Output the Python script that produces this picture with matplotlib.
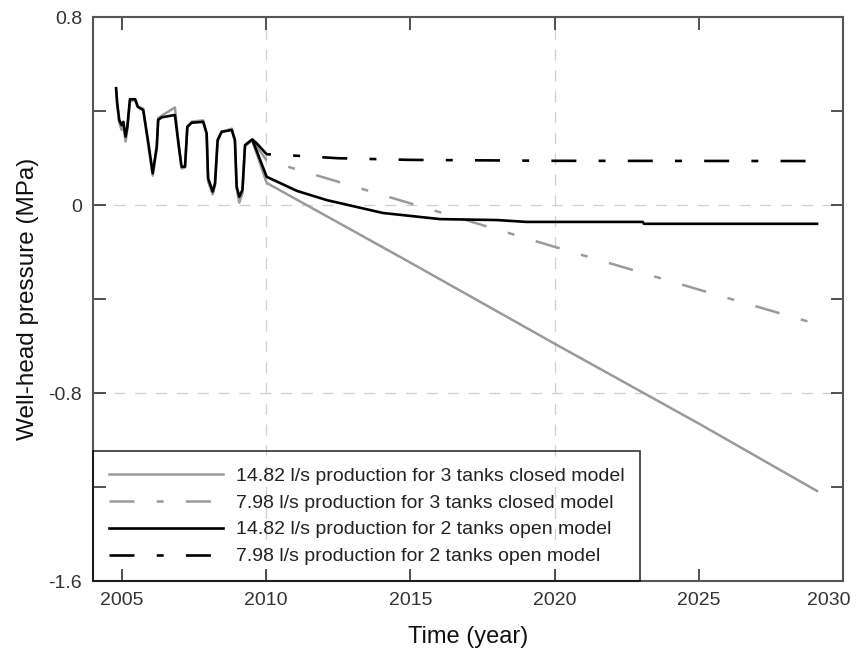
#import matplotlib and the bits for tick placement
import matplotlib
matplotlib.use('Agg')
import matplotlib.pyplot as plt
import matplotlib.transforms as mtransforms
from matplotlib.ticker import MultipleLocator, FixedLocator, FuncFormatter

plt.rcParams['font.family'] = ['Liberation Sans', 'DejaVu Sans']
plt.rcParams['lines.scale_dashes'] = False

#history period (measured well-head pressure), same time axis for both models
hist_year = [2004.80, 2004.84, 2004.91, 2004.99, 2005.05, 2005.13, 2005.19, 2005.28, 2005.46,
             2005.55, 2005.74, 2005.92, 2006.07, 2006.21, 2006.26, 2006.38, 2006.84, 2006.96,
             2007.07, 2007.19, 2007.27, 2007.42, 2007.82, 2007.94, 2007.99, 2008.15, 2008.23,
             2008.32, 2008.46, 2008.81, 2008.92, 2008.98, 2009.07, 2009.18, 2009.27, 2009.52]
hist_open = [0.497, 0.433, 0.362, 0.340, 0.354, 0.291, 0.333, 0.450, 0.450,
             0.418, 0.404, 0.263, 0.135, 0.248, 0.362, 0.373, 0.383, 0.263,
             0.163, 0.163, 0.333, 0.350, 0.354, 0.305, 0.114, 0.057, 0.092,
             0.277, 0.312, 0.319, 0.277, 0.078, 0.035, 0.064, 0.255, 0.279]
hist_closed = [0.490, 0.420, 0.350, 0.320, 0.340, 0.270, 0.320, 0.440, 0.450,
               0.420, 0.410, 0.250, 0.125, 0.240, 0.370, 0.380, 0.415, 0.270,
               0.155, 0.160, 0.330, 0.355, 0.360, 0.300, 0.100, 0.045, 0.085,
               0.270, 0.310, 0.325, 0.270, 0.070, 0.010, 0.050, 0.250, 0.275]

#forecasts
closed_hi_year = [2009.52, 2010.02, 2015.0, 2020.0, 2025.0, 2029.1]
closed_hi = [0.275, 0.094, -0.245, -0.590, -0.930, -1.217]
closed_lo_year = [2009.52, 2010.02, 2015.0, 2020.0, 2025.0, 2029.1]
closed_lo = [0.275, 0.190, 0.007, -0.178, -0.360, -0.507]
open_hi_year = [2009.52, 2010.02, 2011.07, 2012.1, 2014.05, 2016.03, 2018.0, 2019.04, 2023.06, 2023.1, 2029.1]
open_hi = [0.279, 0.120, 0.060, 0.021, -0.034, -0.060, -0.064, -0.072, -0.072, -0.080, -0.080]
open_lo_year = [2009.52, 2009.67, 2010.02, 2011.0, 2012.5, 2015.0, 2020.0, 2029.1]
open_lo = [0.279, 0.263, 0.216, 0.210, 0.199, 0.192, 0.188, 0.187]

labels = ['14.82 l/s production for 3 tanks closed model',
          '7.98 l/s production for 3 tanks closed model',
          '14.82 l/s production for 2 tanks open model',
          '7.98 l/s production for 2 tanks open model']

x_ticks = [2005, 2010, 2015, 2020, 2025, 2030]
grid_years = [2010, 2020]
grid_press = [0, -0.8]

gray = '#9a9a9a'
dashdot = (0, (18, 16, 5, 16))

fig = plt.figure(figsize=(8.62, 6.5), dpi=100)
ax = fig.add_axes([93/862, 69/650, 750/862, 564/650])

#grid lines first so the curves sit on top
for g in grid_years:
    ax.axvline(g, color='#cfcfcf', lw=0.9, ls=(0, (8, 7)), zorder=0)
for g in grid_press:
    ax.axhline(g, color='#cfcfcf', lw=0.9, ls=(0, (8, 7)), zorder=0)

ax.plot(hist_year + closed_hi_year[1:], hist_closed + closed_hi[1:], color=gray, lw=1.8, label=labels[0])
ax.plot(closed_lo_year, closed_lo, color=gray, lw=1.8, ls=dashdot, label=labels[1])
ax.plot(hist_year + open_hi_year[1:], hist_open + open_hi[1:], color='black', lw=1.9, label=labels[2])
ax.plot(open_lo_year, open_lo, color='black', lw=1.9, ls=dashdot, label=labels[3])

ax.set_xlim(2004, 2030)
ax.set_ylim(-1.6, 0.8)
ax.xaxis.set_major_locator(FixedLocator(x_ticks))
ax.yaxis.set_major_locator(MultipleLocator(0.8))
ax.yaxis.set_minor_locator(MultipleLocator(0.4))
ax.yaxis.set_major_formatter(FuncFormatter(lambda v, p: '0' if abs(v) < 1e-9 else '%.1f' % v))
ax.tick_params(which='both', direction='in', length=9, width=1.1, color='#222222',
               top=True, right=True, labelsize=14, labelcolor='#333333', pad=8)

for s in ax.spines.values():
    s.set_color('#555555')
    s.set_linewidth(1.5)

#nudge the last x label left like in the original
last = ax.get_xticklabels()[-1]
last.set_transform(last.get_transform() + mtransforms.ScaledTranslation(-10/72, 0, fig.dpi_scale_trans))

ax.set_xlabel('Time (year)', fontsize=17, color='#111111', labelpad=12)
ax.set_ylabel('Well-head pressure (MPa)', fontsize=17.5, color='#111111', labelpad=7)

leg = ax.legend(loc='lower left', borderaxespad=0, fontsize=14, handlelength=5.9,
                handletextpad=0.65, labelspacing=0.48, borderpad=0.8, fancybox=False,
                edgecolor='black', facecolor='none')
leg.get_frame().set_linewidth(1.2)
for t in leg.get_texts():
    t.set_color('#222222')

plt.savefig('out.png', dpi=100)
